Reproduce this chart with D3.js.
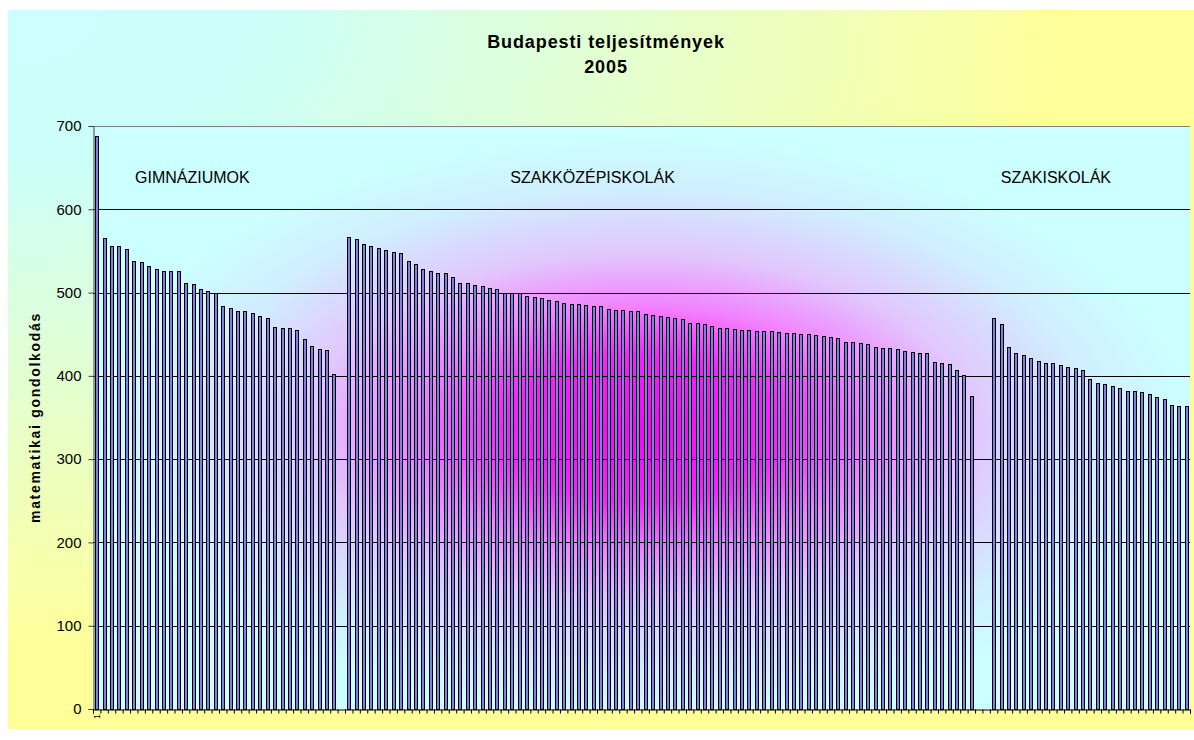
<!DOCTYPE html>
<html>
<head>
<meta charset="utf-8">
<script src="https://cdn.jsdelivr.net/npm/d3@7"></script>
<style>
  body { margin: 0; background: #fff; }
  text { font-family: Arial, 'Liberation Sans', sans-serif; fill: #000; }
</style>
</head>
<body>
<div id="chart"></div>
<script>
// values, each group sorted high to low
const gimnaziumok = [688, 566, 556, 556, 552, 538, 537, 532, 528, 526, 526, 526, 512, 510, 504, 502, 499,
  484, 482, 478, 478, 476, 472, 469, 459, 458, 458, 455, 444, 436, 432, 431, 402]
const szakkozepiskolak = [567, 564, 558, 556, 554, 551, 549, 548, 538, 534,
  528, 526, 523, 523, 519, 511, 511, 509, 508, 505,
  504, 500, 500, 500, 496, 495, 493, 491, 490, 488,
  486, 486, 485, 484, 484, 480, 479, 479, 478, 478,
  474, 473, 472, 471, 469, 468, 464, 463, 462, 460,
  457, 457, 456, 455, 455, 454, 454, 454, 453, 452,
  451, 450, 450, 449, 448, 447, 445, 441, 441, 440,
  438, 435, 433, 433, 432, 430, 429, 428, 428, 417,
  416, 414, 407, 401, 376]
const szakiskolak = [469, 462, 435, 428, 425, 422, 418, 416, 415, 413, 411, 409, 407, 396, 392,
  390, 388, 386, 382, 382, 381, 378, 375, 372, 365, 364, 364]
const groupNames = ['GIMNÁZIUMOK', 'SZAKKÖZÉPISKOLÁK', 'SZAKISKOLÁK']
const emptyAfter = [1, 2, 0]
const yTicks = [0, 100, 200, 300, 400, 500, 600, 700]
const titleLines = ['Budapesti teljesítmények', '2005']
const yTitle = 'matematikai gondolkodás'

const width = 1194,
  height = 740
const plot = { left: 93, right: 1190, top: 126, bottom: 709 }

// one row per category, empty ones between the groups
let rows = []
;[gimnaziumok, szakkozepiskolak, szakiskolak].forEach((arr, g) => {
  arr.forEach((v) => rows.push({ group: g, value: v }))
  for (let k = 0; k < emptyAfter[g]; k++) rows.push({ group: g, value: null })
})
rows.forEach((d, i) => (d.idx = i))

const svg = d3
  .select('#chart')
  .append('svg')
  .attr('width', width)
  .attr('height', height)

const defs = svg.append('defs')
const bgGrad = defs
  .append('radialGradient')
  .attr('id', 'bgGrad')
  .attr('cx', 0)
  .attr('cy', 0)
  .attr('fx', 0)
  .attr('fy', 0)
  .attr('r', 1)
;[
  [0, '#ccffff'],
  [0.22, '#ccfff8'],
  [0.55, '#e6ffcc'],
  [0.9, '#ffff99'],
].forEach(([o, c]) => bgGrad.append('stop').attr('offset', o).attr('stop-color', c))

const plotGrad = defs
  .append('radialGradient')
  .attr('id', 'plotGrad')
  .attr('cx', 0.5)
  .attr('cy', 0.52)
  .attr('r', 0.5)
;[
  [0, '#ff00ff'],
  [0.25, '#ff1eff'],
  [0.42, '#f282ff'],
  [0.6, '#e2c6fd'],
  [0.82, '#d0eeff'],
  [1, '#ccffff'],
].forEach(([o, c]) => plotGrad.append('stop').attr('offset', o).attr('stop-color', c))

// chart area
svg
  .append('rect')
  .attr('x', 8)
  .attr('y', 10)
  .attr('width', width - 8)
  .attr('height', 719)
  .attr('fill', 'url(#bgGrad)')

svg
  .append('rect')
  .attr('x', plot.left)
  .attr('y', plot.top)
  .attr('width', plot.right - plot.left)
  .attr('height', plot.bottom - plot.top)
  .attr('fill', 'url(#plotGrad)')

const x = d3
  .scaleBand()
  .domain(rows.map((d) => d.idx))
  .range([plot.left, plot.right])
  .paddingInner(0.6)
  .paddingOuter(0.3)
const xl = d3.scaleLinear().domain([0, rows.length]).range([plot.left, plot.right])
const y = d3.scaleLinear().domain([0, 700]).range([plot.bottom, plot.top])

// gridlines
svg
  .append('g')
  .selectAll('line')
  .data(yTicks.filter((t) => t > 0))
  .join('line')
  .attr('x1', plot.left)
  .attr('x2', plot.right)
  .attr('y1', (d) => Math.round(y(d)) + 0.5)
  .attr('y2', (d) => Math.round(y(d)) + 0.5)
  .attr('stroke', (d) => (d === 700 ? '#808080' : '#000'))
  .attr('stroke-width', 1)

// bars
svg
  .append('g')
  .selectAll('rect')
  .data(rows.filter((d) => d.value !== null))
  .join('rect')
  .attr('x', (d) => Math.round(x(d.idx)) + 0.5)
  .attr('y', (d) => Math.round(y(d.value)) + 0.5)
  .attr('width', 3)
  .attr('height', (d) => Math.round(y(0)) - Math.round(y(d.value)))
  .attr('fill', '#8080e4')
  .attr('stroke', '#000')
  .attr('stroke-width', 1)

// y axis
const yAxis = svg
  .append('g')
  .attr('transform', `translate(${plot.left + 0.5}, 0)`)
  .call(d3.axisLeft(y).tickValues(yTicks).tickSize(5).tickPadding(7).tickFormat(d3.format('d')))
yAxis.select('.domain').attr('stroke', '#404040')
yAxis.selectAll('.tick line').attr('stroke', '#404040')
yAxis.selectAll('text').attr('font-size', 15).attr('font-family', "Arial, 'Liberation Sans', sans-serif")

// x axis with a tick between every category
const xAxis = svg
  .append('g')
  .attr('transform', `translate(0, ${plot.bottom + 0.5})`)
  .call(d3.axisBottom(xl).tickValues(d3.range(rows.length + 1)).tickSize(4).tickFormat(''))
xAxis.select('.domain').attr('stroke', '#000')
xAxis.selectAll('.tick line').attr('stroke', '#000')

svg
  .append('text')
  .attr('transform', `translate(${x(0) + x.bandwidth() / 2 + 3}, ${plot.bottom + 5}) rotate(-90)`)
  .attr('text-anchor', 'end')
  .attr('font-size', 9)
  .text('1')

// group labels
const labelAt = [13.4, 67.4, 129.9]
svg
  .append('g')
  .selectAll('text')
  .data(groupNames)
  .join('text')
  .attr('x', (d, i) => xl(labelAt[i]))
  .attr('y', 183)
  .attr('text-anchor', 'middle')
  .attr('font-size', 16)
  .text((d) => d)

// title
svg
  .append('g')
  .selectAll('text')
  .data(titleLines)
  .join('text')
  .attr('x', 606)
  .attr('y', (d, i) => 48 + i * 25)
  .attr('text-anchor', 'middle')
  .attr('font-size', 18)
  .attr('font-weight', 'bold')
  .attr('letter-spacing', '0.9px')
  .text((d) => d)

svg
  .append('text')
  .attr('transform', `translate(40, ${(plot.top + plot.bottom) / 2}) rotate(-90)`)
  .attr('text-anchor', 'middle')
  .attr('font-size', 14)
  .attr('font-weight', 'bold')
  .attr('letter-spacing', '1.7px')
  .text(yTitle)
</script>
</body>
</html>
